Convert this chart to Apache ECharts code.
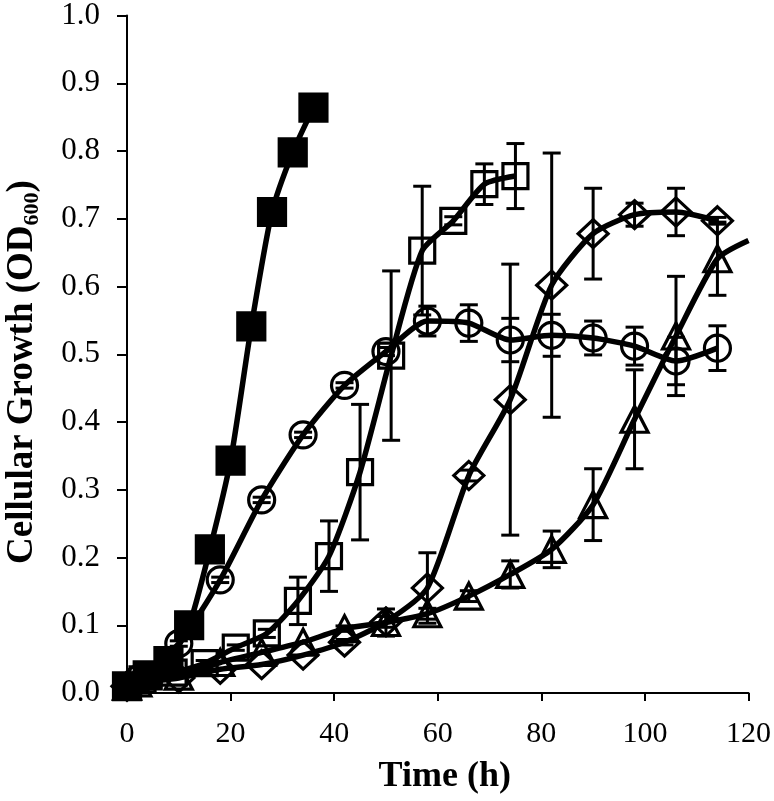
<!DOCTYPE html>
<html>
<head>
<meta charset="utf-8">
<script src="https://cdn.jsdelivr.net/npm/echarts@6/dist/echarts.min.js"></script>
<style>
  html, body { margin: 0; padding: 0; background: #fff; }
  #chart { width: 774px; height: 801px; }
</style>
</head>
<body>
<div id="chart"></div>
<script>
// sampling times (h)
const tFilledSq = [0, 4, 8, 12, 16, 20, 24, 28, 32, 36];
const tOpenSq = [0, 3, 9, 15, 21, 27, 33, 39, 45, 51, 57, 63, 69, 75];
const tCircle = [0, 2, 10, 18, 26, 34, 42, 50, 58, 66, 74, 82, 90, 98, 106, 114];
const tDiamond = [0, 2, 10, 18, 26, 34, 42, 50, 58, 66, 74, 82, 90, 98, 106, 114];
const tTriangle = [0, 2, 10, 18, 26, 34, 42, 50, 58, 66, 74, 82, 90, 98, 106, 114, 120];

// OD600 values
const vFilledSq = [0.01, 0.026, 0.047, 0.10, 0.212, 0.343, 0.541, 0.71, 0.798, 0.864];
const vOpenSq = [0.01, 0.02, 0.03, 0.044, 0.067, 0.088, 0.136, 0.202, 0.326, 0.498, 0.653, 0.697, 0.751, 0.763];
const vCircle = [0.01, 0.02, 0.073, 0.167, 0.285, 0.381, 0.454, 0.504, 0.549, 0.546, 0.521, 0.528, 0.524, 0.512, 0.49, 0.509];
const vDiamond = [0.01, 0.015, 0.022, 0.035, 0.042, 0.056, 0.075, 0.105, 0.155, 0.321, 0.433, 0.602, 0.678, 0.706, 0.71, 0.697];
const vTriangle = [0.01, 0.015, 0.025, 0.045, 0.06, 0.075, 0.095, 0.104, 0.117, 0.143, 0.175, 0.212, 0.278, 0.404, 0.527, 0.641, 0.668];

// standard deviations
const eFilledSq = [0, 0, 0, 0, 0, 0, 0, 0, 0, 0];
const eOpenSq = [0, 0, 0, 0.004, 0.004, 0.006, 0.035, 0.052, 0.1, 0.125, 0.095, 0.006, 0.03, 0.048];
const eCircle = [0, 0, 0.004, 0.004, 0.004, 0.004, 0.004, 0.006, 0.022, 0.027, 0.032, 0.031, 0.025, 0.028, 0.035, 0.033];
const eDiamond = [0, 0, 0, 0, 0, 0, 0.004, 0.008, 0.052, 0.008, 0.2, 0.195, 0.067, 0.017, 0.035, 0.005];
const eTriangle = [0, 0, 0, 0, 0, 0, 0.004, 0.02, 0.008, 0.008, 0.02, 0.027, 0.053, 0.073, 0.088, 0.054, 0];

const xTicks = [0, 20, 40, 60, 80, 100, 120];

const serif = '"Liberation Serif", "DejaVu Serif", serif';

function pairs(ts, vs, lastHidden) {
  return ts.map((t, i) => {
    if (lastHidden && i === ts.length - 1) return { value: [t, vs[i]], symbol: 'none' };
    return [t, vs[i]];
  });
}

function lineSeries(ts, vs, symbol, size, fill, lastHidden) {
  return {
    type: 'line',
    data: pairs(ts, vs, lastHidden),
    smooth: 0.22,
    symbol: symbol,
    symbolSize: size,
    showAllSymbol: true,
    clip: !!lastHidden,
    z: 3,
    lineStyle: { color: '#000', width: 5.5 },
    itemStyle: { color: fill, borderColor: '#000', borderWidth: 3.2, opacity: 1 }
  };
}

function errSeries(ts, vs, es) {
  const data = [];
  ts.forEach((t, i) => {
    if (es[i] > 0) data.push([t, vs[i] - es[i], vs[i] + es[i]]);
  });
  return {
    type: 'custom',
    data: data,
    z: 4,
    encode: { x: 0, y: [1, 2] },
    renderItem(params, api) {
      const x = api.value(0);
      const lo = api.coord([x, api.value(1)]);
      const hi = api.coord([x, api.value(2)]);
      const half = 9;
      const style = { stroke: '#000', lineWidth: 3, fill: null };
      return {
        type: 'group',
        children: [
          { type: 'line', shape: { x1: lo[0], y1: lo[1], x2: hi[0], y2: hi[1] }, style },
          { type: 'line', shape: { x1: lo[0] - half, y1: lo[1], x2: lo[0] + half, y2: lo[1] }, style },
          { type: 'line', shape: { x1: hi[0] - half, y1: hi[1], x2: hi[0] + half, y2: hi[1] }, style }
        ]
      };
    }
  };
}

const chart = echarts.init(document.getElementById('chart'), null, { renderer: 'canvas' });
const clear = 'rgba(0,0,0,0)';

chart.setOption({
  animation: false,
  backgroundColor: '#fff',
  grid: { left: 127, right: 23, top: 10, bottom: 108 },
  xAxis: {
    type: 'value',
    min: 0,
    max: 120,
    interval: 20,
    name: 'Time (h)',
    nameLocation: 'middle',
    nameGap: 66,
    nameTextStyle: { fontFamily: serif, fontSize: 36, fontWeight: 'bold', color: '#000', padding: [0, 0, 0, 14] },
    axisLine: { lineStyle: { color: '#000', width: 2 } },
    axisTick: { length: 8, lineStyle: { color: '#000', width: 2 }, customValues: xTicks },
    axisLabel: { fontFamily: serif, fontSize: 30, color: '#000', margin: 26, customValues: xTicks },
    splitLine: { show: false }
  },
  yAxis: {
    type: 'value',
    min: 0,
    max: 1,
    interval: 0.1,
    axisLine: { show: true, lineStyle: { color: '#000', width: 2 } },
    axisTick: { show: true, length: 10, lineStyle: { color: '#000', width: 2 } },
    axisLabel: { fontFamily: serif, fontSize: 31, color: '#000', margin: 27, formatter: v => v.toFixed(1) },
    splitLine: { show: false }
  },
  graphic: [{
    type: 'text',
    x: 22,
    y: 372,
    rotation: Math.PI / 2,
    style: {
      text: '{a|Cellular Growth (OD}{b|600}{a|)}',
      align: 'center',
      verticalAlign: 'middle',
      fill: '#000',
      rich: {
        a: { fontFamily: serif, fontSize: 37, fontWeight: 'bold', lineHeight: 42, fill: '#000' },
        b: { fontFamily: serif, fontSize: 22, fontWeight: 'bold', lineHeight: 18, verticalAlign: 'bottom', fill: '#000' }
      }
    }
  }],
  series: [
    lineSeries(tTriangle, vTriangle, 'triangle', [27, 26], clear, true),
    lineSeries(tDiamond, vDiamond, 'diamond', [30, 28], clear),
    lineSeries(tCircle, vCircle, 'circle', 26, clear),
    lineSeries(tOpenSq, vOpenSq, 'rect', 25, clear),
    lineSeries(tFilledSq, vFilledSq, 'rect', 27, '#000'),
    errSeries(tTriangle, vTriangle, eTriangle),
    errSeries(tDiamond, vDiamond, eDiamond),
    errSeries(tCircle, vCircle, eCircle),
    errSeries(tOpenSq, vOpenSq, eOpenSq),
    errSeries(tFilledSq, vFilledSq, eFilledSq)
  ]
});
</script>
</body>
</html>
